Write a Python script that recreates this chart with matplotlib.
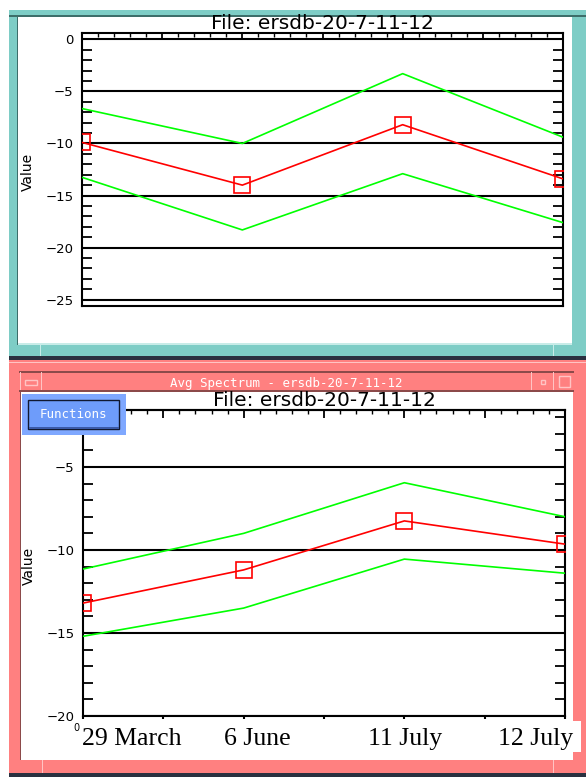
import numpy as np
import matplotlib
matplotlib.use('Agg')
import matplotlib.pyplot as plt
from matplotlib.patches import Rectangle
from matplotlib.ticker import MultipleLocator

dates = ['29 March', '6 June', '11 July', '12 July']
x = np.arange(len(dates))

top_mean = [-9.9, -14.0, -8.2, -13.4]
top_upper = [-6.65, -10.0, -3.3, -9.4]
top_lower = [-13.25, -18.3, -12.9, -17.6]

bot_mean = [-13.2, -11.2, -8.25, -9.65]
bot_upper = [-11.15, -9.0, -5.95, -8.0]
bot_lower = [-15.2, -13.5, -10.55, -11.4]

title = 'File: ersdb-20-7-11-12'
win_title = 'Avg Spectrum - ersdb-20-7-11-12'

W, H = 586, 777
fig = plt.figure(figsize=(W / 100, H / 100), dpi=100)
fig.patch.set_facecolor('white')

def frac(l, t, r, b):
    return [l / W, 1 - b / H, (r - l) / W, (b - t) / H]

def pixel_axes(z):
    a = fig.add_axes([0, 0, 1, 1], zorder=z)
    a.set_xlim(0, W)
    a.set_ylim(H, 0)
    a.axis('off')
    a.patch.set_alpha(0)
    return a

# window decorations drawn in pixel coords
bg = pixel_axes(0)
fg = pixel_axes(5)

def box(a, x0, y0, w, h, fc, ec='none', lw=0):
    a.add_patch(Rectangle((x0, y0), w, h, facecolor=fc, edgecolor=ec, linewidth=lw))

teal, teal_dk, teal_lt = '#7ECDC6', '#3D6E6A', '#C8ECE8'
pink, pink_dk, pink_lt = '#FF8080', '#8C4A4A', '#FFC4C4'
navy = '#2A3140'

# top window (teal)
box(bg, 9, 10, 577, 346, teal)
box(bg, 9, 15, 577, 1.5, teal_dk)
box(bg, 16.5, 17, 1.5, 328, teal_dk)
box(bg, 18, 17, 554, 326, 'white')
box(bg, 18, 343, 554, 1.5, teal_lt)
box(bg, 40, 345, 1, 11, teal_lt)
box(bg, 553, 345, 1, 11, teal_lt)
box(bg, 9, 356, 577, 4, navy)

# bottom window (pink)
box(bg, 9, 360, 577, 413, pink)
box(bg, 9, 362, 577, 1, pink_lt)
box(bg, 19, 371, 555, 1.5, pink_dk)
box(bg, 19, 390, 555, 2, pink_dk)
for xv in [20, 41, 531, 553]:
    box(bg, xv, 372, 1, 18, pink_lt)
box(bg, 25, 380, 12, 5, pink, ec=pink_lt, lw=1)
box(bg, 541, 380, 4, 4, pink, ec=pink_lt, lw=1)
box(bg, 559, 376, 11, 11, pink, ec=pink_lt, lw=1)
bg.text(286, 383, win_title, color='white', fontsize=9, family='DejaVu Sans Mono',
        ha='center', va='center')
box(bg, 19.5, 392, 1.5, 368, pink_dk)
box(bg, 21, 392, 552, 368, 'white')
box(bg, 42, 760, 1, 13, pink_lt)
box(bg, 553, 760, 1, 13, pink_lt)
box(bg, 9, 773, 577, 4, navy)

# Functions button sits over the plot
box(fg, 22, 394, 104, 41, '#7FA8FF')
box(fg, 28, 400, 91, 29, '#6E9CFA', ec='#101830', lw=1)
box(fg, 29, 427, 90, 2, '#3A5AA8')
fg.text(73, 415, 'Functions', color='white', fontsize=9, family='DejaVu Sans Mono',
        ha='center', va='center')

# pasted date labels under the lower plot
box(fg, 80, 721, 501, 31, 'white')
fg.text(73, 731, '0', fontsize=7, ha='left', va='baseline')
for lab, xl in zip(dates, [82, 224, 368, 498]):
    fg.text(xl, 745, lab, fontsize=18.5, family='Liberation Serif', ha='left', va='baseline')


def style_axes(ax, ymajors):
    for s in ax.spines.values():
        s.set_linewidth(1.5)
    ax.set_xlim(0, 3)
    ax.set_yticks(ymajors)
    ax.set_yticklabels([str(v).replace('-', '\u2212') for v in ymajors])
    ax.yaxis.set_minor_locator(MultipleLocator(1))
    ax.tick_params(axis='y', which='major', length=0, labelsize=9.5, pad=6)
    ax.tick_params(axis='y', which='minor', direction='in', length=7, width=1.3,
                   left=True, right=True)
    ax.grid(True, axis='y', which='major', color='black', linewidth=1.5)
    ax.set_ylabel('Value', fontsize=10)
    ax.yaxis.set_label_coords(-0.098, 0.49)
    ax.set_title(title, fontsize=14.5, pad=2)


def draw_lines(ax, mean, upper, lower):
    ax.plot(x, upper, color='#00FF00', linewidth=1.2, zorder=3)
    ax.plot(x, lower, color='#00FF00', linewidth=1.2, zorder=3)
    ax.plot(x, mean, color='#FF0000', linewidth=1.2, marker='s', markersize=11,
            markerfacecolor='none', markeredgecolor='#FF0000', markeredgewidth=1.2, zorder=4)


# upper plot
ax1 = fig.add_axes(frac(82, 33, 563, 306), zorder=1)
ax1.patch.set_alpha(0)
draw_lines(ax1, top_mean, top_upper, top_lower)
ax1.set_ylim(-25.6, 0.6)
style_axes(ax1, [0, -5, -10, -15, -20, -25])
ax1.xaxis.set_ticks_position('top')
ax1.set_xticks(np.arange(0, 3.01, 0.5))
ax1.xaxis.set_minor_locator(MultipleLocator(0.1))
ax1.tick_params(axis='x', which='major', direction='in', length=5, width=1.3,
                labeltop=False, labelbottom=False)
ax1.tick_params(axis='x', which='minor', direction='in', length=3, width=1)

# lower plot
ax2 = fig.add_axes(frac(83, 410, 565, 716), zorder=1)
ax2.patch.set_alpha(0)
draw_lines(ax2, bot_mean, bot_upper, bot_lower)
ax2.set_ylim(-20, -1.57)
style_axes(ax2, [-5, -10, -15, -20])
ax2.set_xticks(np.arange(0, 3.01, 0.5))
ax2.tick_params(axis='x', which='major', direction='out', length=2, width=1.5,
                labelbottom=False)
top2 = ax2.secondary_xaxis('top')
top2.set_xticks(np.arange(0, 3.01, 0.5))
top2.xaxis.set_minor_locator(MultipleLocator(0.1))
top2.tick_params(axis='x', which='major', direction='in', length=6, width=1.3, labeltop=False)
top2.tick_params(axis='x', which='minor', direction='in', length=3, width=1)
top2.spines['top'].set_linewidth(1.5)
ax2.set_title(title, fontsize=14.5, pad=0)

plt.savefig('out.png', dpi=100)
